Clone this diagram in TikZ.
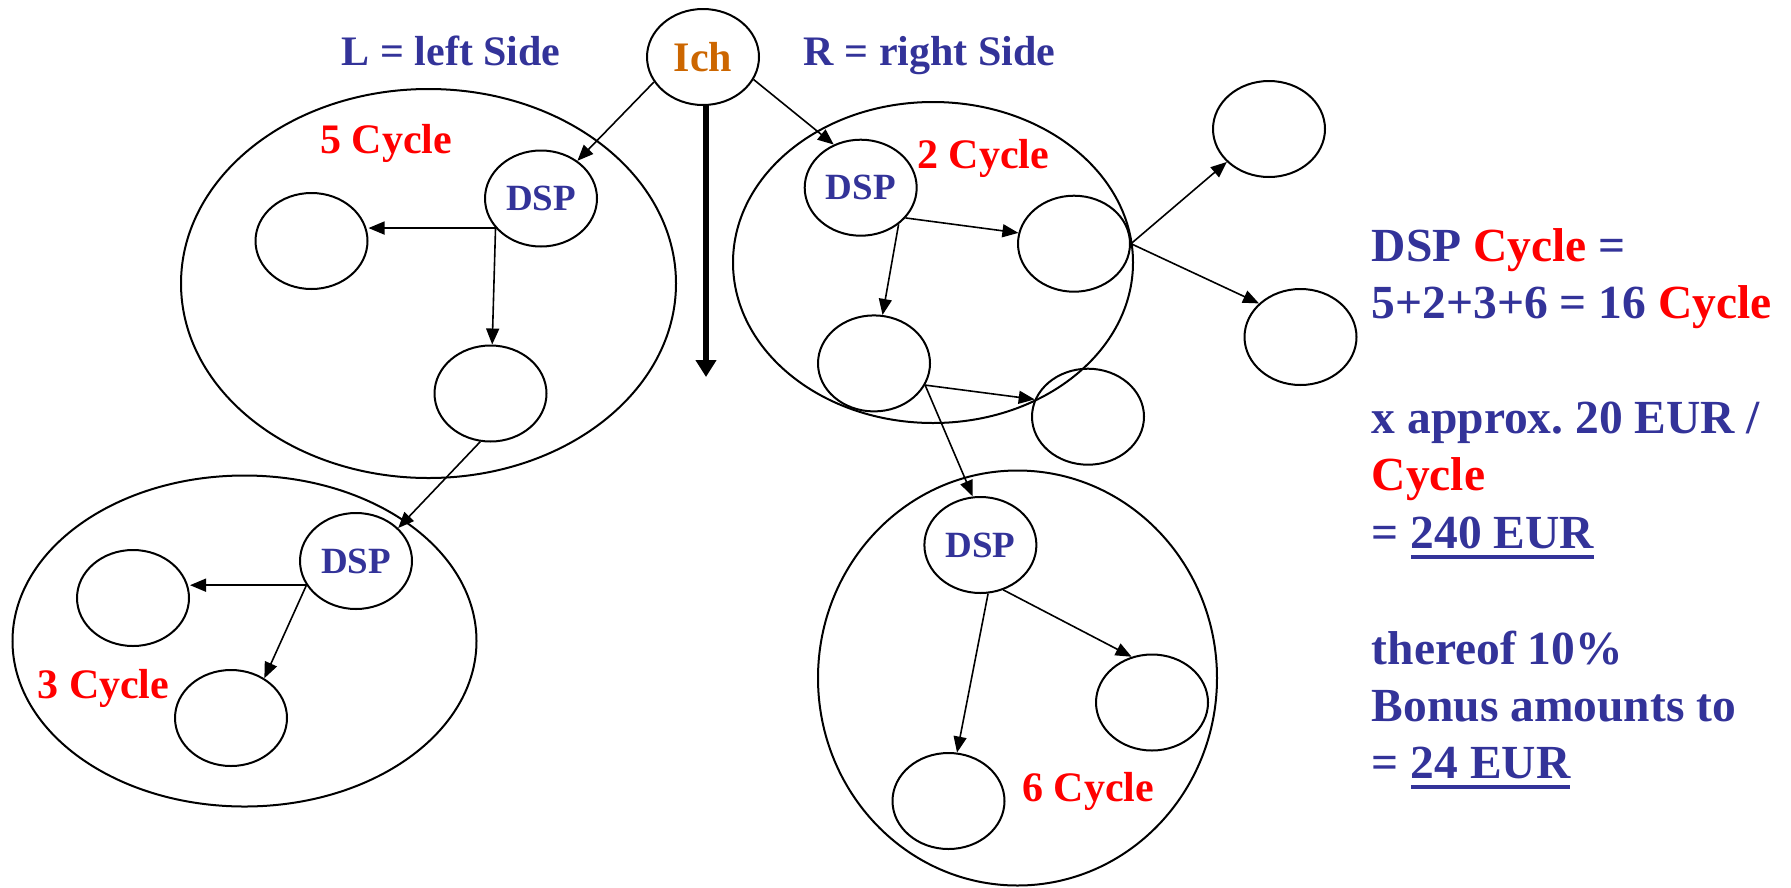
\documentclass[tikz,border=0pt]{standalone}
\usepackage{fontspec}
\setmainfont{Liberation Serif}
\usetikzlibrary{shapes.geometric,arrows.meta}
\definecolor{dblue}{HTML}{333399}
\definecolor{ichor}{HTML}{CC6600}
\newcommand\ulbar[1]{\setbox0\hbox{#1}\rlap{\rule[-10.7pt]{\wd0}{4pt}}\box0}
\frenchspacing
\begin{document}
\begin{tikzpicture}[x=1pt,y=-1pt,
  circ/.style={ellipse,draw,line width=2pt,minimum width=112pt,minimum height=96pt,inner sep=0pt,
    font=\fontsize{37}{40}\selectfont\bfseries,text=dblue},
  big/.style={ellipse,draw,line width=2pt,inner sep=0pt},
  arr/.style={-{Triangle[length=16pt,width=13pt]},line width=1.6pt},
  thickarr/.style={-{Triangle[length=17pt,width=20pt]},line width=5.5pt},
  lbl/.style={inner sep=0pt,anchor=base west,font=\fontsize{42}{50}\selectfont\bfseries},
  rt/.style={inner sep=0pt,anchor=base west,font=\fontsize{47.5}{57}\selectfont\bfseries,text=dblue}]
\useasboundingbox (0,0) rectangle (1791,887);
% big groups
\node[big,minimum width=495pt,minimum height=389pt] (bigL) at (428.5,283.5) {};
\node[big,minimum width=400pt,minimum height=321pt] (bigR) at (933,262.5) {};
\node[big,minimum width=464pt,minimum height=331pt] (bigBL) at (244.5,641) {};
\node[big,minimum width=399pt,minimum height=415pt] (bigBR) at (1017.5,678) {};
% top labels
\node[lbl,text=dblue] (lside) at (341.6,65) {L = left Side};
\node[lbl,text=dblue] (rside) at (803.7,65) {R = right Side};
\node[circ,text=ichor,font=\fontsize{42}{50}\selectfont\bfseries] (ich) at (703,57) {Ich};
% cycle labels
\node[lbl,text=red] (c5) at (320,153) {5 Cycle};
\node[lbl,text=red] (c2) at (917,168) {2 Cycle};
\node[lbl,text=red] (c3) at (37.3,698) {3 Cycle};
\node[lbl,text=red] (c6) at (1022,801.7) {6 Cycle};
% small nodes
\node[circ] (dsp1) at (541,198.5) {DSP};
\node[circ] (a) at (311.5,241) {};
\node[circ] (b) at (490.5,393.5) {};
\node[circ] (dsp2) at (860.7,187.7) {DSP};
\node[circ] (c) at (1074,243.7) {};
\node[circ] (d) at (1269,129) {};
\node[circ] (e) at (1300.5,337) {};
\node[circ] (i) at (874,363.4) {};
\node[circ] (f) at (1088,416.7) {};
\node[circ] (dsp3) at (356,561) {DSP};
\node[circ] (g) at (133,598) {};
\node[circ] (h) at (231,718) {};
\node[circ] (dsp4) at (980.4,545) {DSP};
\node[circ] (j) at (1152,702.5) {};
\node[circ] (k) at (948.5,801) {};
% connectors
\coordinate (downend) at (706,377);
\draw[thickarr] (ich.south -| downend) -- (downend);
\draw[arr] (ich.207) -- (dsp1.46);
\draw[arr] (ich.336) -- (dsp2.122);
\draw[arr] (dsp1.213) -- (dsp1.213 -| a.east);
\draw[arr] (dsp1.213) -- (b.88);
\draw[arr] (b.258) -- (dsp3.38);
\draw[arr] (dsp3.206) -- (dsp3.206 -| g.east);
\draw[arr] (dsp3.206) -- (h.50);
\draw[arr] (dsp2.326) -- (c.169);
\draw[arr] (dsp2.316) -- (i.80);
\draw[arr] (c.east) -- (d.218);
\draw[arr] (c.east) -- (e.141);
\draw[arr] (i.337) -- (f.162);
\draw[arr] (i.337) -- (dsp4.99);
\draw[arr] (dsp4.279) -- (k.80);
\draw[arr] (dsp4.297) -- (j.114);
% right-hand text
\node[rt] (t1) at (1371.6,261.7) {DSP \textcolor{red}{Cycle} =};
\node[rt] (t2) at (1371.6,318.3) {5+2+3+6 = 16 \textcolor{red}{Cycle}};
\node[rt] (t3) at (1371.6,433.3) {x approx. 20 EUR /};
\node[rt,text=red] (t4) at (1371.6,490.7) {Cycle};
\node[rt] (t5) at (1371.6,548.3) {= \ulbar{240 EUR}};
\node[rt] (t6) at (1371.6,664.5) {thereof 10\%};
\node[rt] (t7) at (1371.6,721.7) {Bonus amounts to};
\node[rt] (t8) at (1371.6,778.3) {= \ulbar{24 EUR}};
\end{tikzpicture}
\end{document}
